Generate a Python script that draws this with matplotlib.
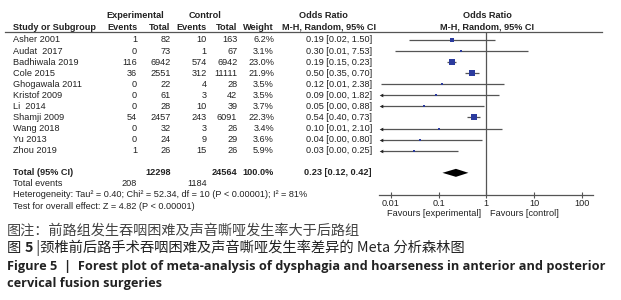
import matplotlib
matplotlib.use('Agg')
import matplotlib.pyplot as plt
import numpy as np

# study data
studies = ["Asher 2001", "Audat  2017", "Badhiwala 2019", "Cole 2015", "Ghogawala 2011",
           "Kristof 2009", "Li  2014", "Shamji 2009", "Wang 2018", "Yu 2013", "Zhou 2019"]
exp_events = [1, 0, 116, 36, 0, 0, 0, 54, 0, 0, 1]
exp_total = [82, 73, 6942, 2551, 22, 61, 28, 2457, 32, 24, 26]
ctrl_events = [10, 1, 574, 312, 4, 3, 10, 243, 3, 9, 15]
ctrl_total = [163, 67, 6942, 11111, 28, 42, 39, 6091, 26, 29, 26]
weight = [6.2, 3.1, 23.0, 21.9, 3.5, 3.5, 3.7, 22.3, 3.4, 3.6, 5.9]
odds = [0.19, 0.30, 0.19, 0.50, 0.12, 0.09, 0.05, 0.54, 0.10, 0.04, 0.03]
ci_lo = [0.024, 0.012, 0.15, 0.35, 0.006, 0.004, 0.004, 0.40, 0.005, 0.004, 0.004]
ci_hi = [1.50, 7.53, 0.23, 0.70, 2.38, 1.82, 0.88, 0.73, 2.10, 0.80, 0.25]

total_exp, total_ctrl = 12298, 24564
events_exp, events_ctrl = 208, 1184
pooled = [0.23, 0.12, 0.42]   # OR, lower, upper
ticks = [0.01, 0.1, 1, 10, 100]
tick_labels = ["0.01", "0.1", "1", "10", "100"]

W, H = 621, 300
fig = plt.figure(figsize=(W / 100, H / 100), dpi=100)
fig.patch.set_facecolor('white')

FONT = 'Liberation Sans'
FS = 6.6
TXT = '#222222'
LINE = '#555555'
BLUE = '#2B3B9E'

# row layout (pixels from top)
row0, step = 40.0, 11.07
ys = [row0 + step * i for i in range(len(studies))]
y_total = row0 + step * 12
top_line, axis_y = 32.0, 194.5

# forest panel: log axis placed so that 0.01 -> 391px and 100 -> 581.7px
px_left, px_right = 379.3, 592.7
dec = (581.7 - 391.0) / 4
xmin = 10 ** (-2 - (391.0 - px_left) / dec)
xmax = 10 ** (2 + (px_right - 581.7) / dec)
fax = fig.add_axes([px_left / W, (H - axis_y) / H, (px_right - px_left) / W, (axis_y - top_line) / H])
fax.set_xscale('log')
fax.set_xlim(xmin, xmax)
fax.set_ylim(axis_y, top_line)
fax.patch.set_visible(False)
for s in ['top', 'left', 'right']:
    fax.spines[s].set_visible(False)
fax.spines['bottom'].set_color(LINE)
fax.spines['bottom'].set_linewidth(0.9)
fax.set_yticks([])
fax.set_xticks(ticks)
fax.set_xticklabels(tick_labels, fontfamily=FONT, fontsize=FS, color=TXT)
fax.minorticks_off()
fax.tick_params(axis='x', direction='inout', length=4, width=0.8, color=LINE, pad=1.5)
fax.axvline(1, color=LINE, lw=0.9)

for i in range(len(studies)):
    y = ys[i]
    lo = max(ci_lo[i], xmin * 1.06)
    fax.plot([lo, ci_hi[i]], [y, y], color=LINE, lw=0.9, solid_capstyle='butt')
    if ci_lo[i] < xmin:
        fax.plot(lo, y, marker='<', ms=2.6, color='#222222', mew=0)
    fax.plot(odds[i], y, marker='s', ms=4.2 * np.sqrt(weight[i] / 23.0), color=BLUE, mew=0)

# pooled diamond
dh = 4.0
fax.fill([pooled[1], pooled[0], pooled[2], pooled[0]],
         [y_total, y_total - dh, y_total, y_total + dh], color='black', lw=0)

# overlay for table text, in pixel coords
ax = fig.add_axes([0, 0, 1, 1])
ax.set_xlim(0, W)
ax.set_ylim(H, 0)
ax.axis('off')
ax.patch.set_visible(False)


def t(x, y, s, ha='left', bold=False, **kw):
    ax.text(x, y, s, ha=ha, va='center', fontfamily=FONT, fontsize=FS,
            fontweight='bold' if bold else 'normal', color=kw.pop('color', TXT), **kw)


# headers
hy1, hy2 = 15.0, 27.0
t(135, hy1, "Experimental", 'center', True)
t(205, hy1, "Control", 'center', True)
t(323.5, hy1, "Odds Ratio", 'center', True)
t(487, hy1, "Odds Ratio", 'center', True)
t(13, hy2, "Study or Subgroup", 'left', True)
t(137, hy2, "Events", 'right', True)
t(170.7, hy2, "Total", 'right', True)
t(206.7, hy2, "Events", 'right', True)
t(237.3, hy2, "Total", 'right', True)
t(274, hy2, "Weight", 'right', True)
t(329, hy2, "M-H, Random, 95% CI", 'center', True)
t(487.5, hy2, "M-H, Random, 95% CI", 'center', True)
ax.plot([5, 602], [top_line, top_line], color=LINE, lw=0.9)

for i in range(len(studies)):
    y = ys[i]
    t(13, y, studies[i])
    t(137, y, str(exp_events[i]), 'right')
    t(170.7, y, str(exp_total[i]), 'right')
    t(206.7, y, str(ctrl_events[i]), 'right')
    t(237.3, y, str(ctrl_total[i]), 'right')
    t(274, y, f"{weight[i]:.1f}%", 'right')
    t(372, y, f"{odds[i]:.2f} [{ci_lo[i]:.2f}, {ci_hi[i]:.2f}]", 'right')

t(13, y_total, "Total (95% CI)", 'left', True)
t(170.7, y_total, str(total_exp), 'right', True)
t(237.3, y_total, str(total_ctrl), 'right', True)
t(274, y_total, "100.0%", 'right', True)
t(372, y_total, f"{pooled[0]:.2f} [{pooled[1]:.2f}, {pooled[2]:.2f}]", 'right', True)
t(13, y_total + step, "Total events")
t(137, y_total + step, str(events_exp), 'right')
t(206.7, y_total + step, str(events_ctrl), 'right')
t(13, y_total + 2 * step,
  "Heterogeneity: Tau\u00b2 = 0.40; Chi\u00b2 = 52.34, df = 10 (P < 0.00001); I\u00b2 = 81%")
t(13, y_total + 3 * step, "Test for overall effect: Z = 4.82 (P < 0.00001)")
t(481.5, 213.5, "Favours [experimental]", 'right')
t(490.5, 213.5, "Favours [control]", 'left')

# captions
CJK = ['Noto Sans CJK SC', 'DejaVu Sans']
ax.text(7, 230, "图注：前路组发生吞咽困难及声音嘶哑发生率大于后路组", ha='left', va='center',
        fontfamily=CJK, fontsize=10.2, fontweight='light', color='#444444')
p1 = ax.text(7, 248, "图 ", ha='left', va='center', fontfamily=CJK, fontsize=10.3, color='#222222')
p2 = ax.annotate("5", xy=(1, 0.5), xycoords=p1, va='center', ha='left',
                 fontfamily=CJK, fontsize=10.3, fontweight='bold', color='#222222')
ax.annotate(" |颈椎前后路手术吞咽困难及声音嘶哑发生率差异的 Meta 分析森林图", xy=(1, 0.5), xycoords=p2,
            va='center', ha='left', fontfamily=CJK, fontsize=10.3, color='#222222')
ax.text(7, 266.5, "Figure 5  |  Forest plot of meta-analysis of dysphagia and hoarseness in anterior and posterior",
        ha='left', va='center', fontfamily='Open Sans', fontsize=9.15, fontweight='bold', color='#222222')
ax.text(7, 284, "cervical fusion surgeries", ha='left', va='center',
        fontfamily='Open Sans', fontsize=9.15, fontweight='bold', color='#222222')

fig.savefig('out.png', dpi=100, facecolor='white')
